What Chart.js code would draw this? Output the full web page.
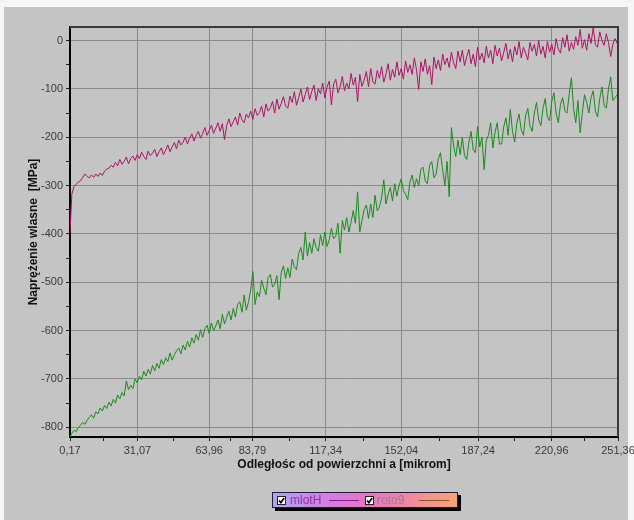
<!DOCTYPE html>
<html>
<head>
<meta charset="utf-8">
<title>Naprężenie własne</title>
<script src="https://cdn.jsdelivr.net/npm/chart.js"></script>
<style>
    html, body { margin: 0; padding: 0; background: #f6f6f6; }
    #panel { position: absolute; left: 4px; top: 7px; width: 624px; height: 513px; background: #c4c4c4; }
    #chart { position: absolute; left: 0; top: 0; }
    #legend {
        position: absolute; left: 272px; top: 492px; width: 184px; height: 14px;
        border: 1px solid #1c1c3c;
        background: linear-gradient(to right, #b0a4f2 0%, #d27ee0 30%, #e674c4 50%, #f08a9c 75%, #f8a27a 100%);
        box-shadow: 3px 3px 0 #000;
        font: 12px "Liberation Sans", Arial, sans-serif;
    }
    #legend .cb {
        position: absolute; top: 3px; width: 7px; height: 7px;
        background: #fff; border: 1px solid #222;
    }
    #legend .cb svg { position: absolute; left: 0; top: 0; }
    #legend .lt { position: absolute; top: 0px; line-height: 14px; }
    #legend .ln { position: absolute; top: 7px; height: 1px; }
</style>
</head>
<body>
<div id="panel"></div>
<canvas id="chart" width="634" height="520"></canvas>
<div id="legend">
    <span class="cb" style="left:4px"><svg width="7" height="7"><path d="M1 3.5 L2.8 5.6 L6.2 1" stroke="#000" stroke-width="1.6" fill="none"/></svg></span>
    <span class="lt" style="left:17px; color:#9a2cb2">mlotH</span>
    <span class="ln" style="left:56px; width:30px; background:#8a1a9a"></span>
    <span class="cb" style="left:92px"><svg width="7" height="7"><path d="M1 3.5 L2.8 5.6 L6.2 1" stroke="#000" stroke-width="1.6" fill="none"/></svg></span>
    <span class="lt" style="left:104px; color:#a87890">roto9</span>
    <span class="ln" style="left:146px; width:30px; background:#8a5a24"></span>
</div>
<script>
// odległość od powierzchni [mikrom]
const depth = [
    0.17, 1, 2, 3, 4, 5, 6, 7, 8, 9,
    10, 11, 12, 13, 14, 15, 16, 17, 18, 19,
    20, 21, 22, 23, 24, 25, 26, 27, 28, 29,
    30, 31, 32, 33, 34, 35, 36, 37, 38, 39,
    40, 41, 42, 43, 44, 45, 46, 47, 48, 49,
    50, 51, 52, 53, 54, 55, 56, 57, 58, 59,
    60, 61, 62, 63, 64, 65, 66, 67, 68, 69,
    70, 71, 72, 73, 74, 75, 76, 77, 78, 79,
    80, 81, 82, 83, 84, 85, 86, 87, 88, 89,
    90, 91, 92, 93, 94, 95, 96, 97, 98, 99,
    100, 101, 102, 103, 104, 105, 106, 107, 108, 109,
    110, 111, 112, 113, 114, 115, 116, 117, 118, 119,
    120, 121, 122, 123, 124, 125, 126, 127, 128, 129,
    130, 131, 132, 133, 134, 135, 136, 137, 138, 139,
    140, 141, 142, 143, 144, 145, 146, 147, 148, 149,
    150, 151, 152, 153, 154, 155, 156, 157, 158, 159,
    160, 161, 162, 163, 164, 165, 166, 167, 168, 169,
    170, 171, 172, 173, 174, 175, 176, 177, 178, 179,
    180, 181, 182, 183, 184, 185, 186, 187, 188, 189,
    190, 191, 192, 193, 194, 195, 196, 197, 198, 199,
    200, 201, 202, 203, 204, 205, 206, 207, 208, 209,
    210, 211, 212, 213, 214, 215, 216, 217, 218, 219,
    220, 221, 222, 223, 224, 225, 226, 227, 228, 229,
    230, 231, 232, 233, 234, 235, 236, 237, 238, 239,
    240, 241, 242, 243, 244, 245, 246, 247, 248, 249,
    250, 251, 251.36
];

// naprężenie [MPa] - seria mlotH
const mlotH = [
    -398, -318, -302, -297, -293, -290, -283, -276, -281, -284,
    -278, -283, -276, -281, -274, -279, -270, -266, -264, -258,
    -262, -252, -259, -246, -256, -250, -241, -255, -244, -239,
    -248, -236, -244, -231, -240, -246, -229, -238, -233, -225,
    -240, -230, -222, -236, -227, -216, -230, -220, -211, -224,
    -206, -216, -210, -200, -214, -202, -193, -208, -196, -188,
    -202, -192, -180, -196, -186, -175, -192, -181, -170, -188,
    -172, -205, -176, -162, -178, -168, -158, -175, -150, -164,
    -170, -152, -160, -146, -163, -141, -155, -149, -136, -158,
    -131, -146, -139, -126, -150, -121, -142, -130, -116, -135,
    -140, -115, -128, -106, -134, -118, -100, -127, -112, -96,
    -122, -105, -92, -124, -100, -110, -88, -119, -96, -84,
    -133, -90, -80, -108, -96, -74, -104, -88, -100, -68,
    -92, -76, -126, -70, -95, -82, -64, -96, -58, -86,
    -90, -62, -78, -54, -86, -70, -48, -82, -60, -76,
    -44, -72, -58, -80, -42, -66, -50, -70, -36, -60,
    -101, -44, -64, -38, -70, -52, -91, -34, -58, -40,
    -62, -28, -50, -36, -56, -24, -46, -58, -22, -44,
    -20, -52, -34, -18, -48, -28, -54, -14, -40, -26,
    -46, -12, -36, -20, -48, -10, -32, -16, -42, -24,
    -6, -38, -18, -44, -12, -30, -2, -36, -14, -26,
    -40, -4, -22, -8, -32, 0, -28, -12, -36, -2,
    -24, -8, -30, 4, -18, -26, 6, -14, 12, -22,
    -4, -18, 8, -10, 23, -16, 2, -20, 14, -6,
    27, -8, -14, 18, 0, -10, 14, -4, -33, -8,
    4, -6, -4
];

// naprężenie [MPa] - seria roto9
const roto9 = [
    -820, -812, -806, -809, -800, -796, -790, -794, -785, -780,
    -774, -781, -768, -772, -760, -766, -755, -761, -748, -756,
    -742, -750, -733, -741, -728, -735, -704, -722, -713, -720,
    -700, -708, -694, -702, -684, -694, -680, -690, -672, -683,
    -668, -678, -660, -670, -656, -664, -646, -661, -650, -642,
    -636, -648, -630, -640, -622, -634, -615, -626, -608, -620,
    -598, -614, -596, -589, -606, -584, -600, -590, -578, -596,
    -566, -586, -572, -560, -578, -554, -572, -546, -540, -562,
    -526, -558, -540, -516, -478, -546, -520, -530, -496, -512,
    -526, -490, -484, -510, -504, -486, -536, -480, -466, -492,
    -470, -490, -452, -468, -474, -440, -428, -454, -396, -446,
    -418, -440, -410, -428, -436, -402, -424, -396, -426, -412,
    -388, -410, -404, -378, -440, -372, -392, -366, -396, -376,
    -352, -378, -313, -396, -372, -350, -340, -368, -338, -366,
    -320, -352, -344, -326, -288, -338, -318, -304, -332, -296,
    -322, -300, -286, -310, -318, -329, -292, -278, -304, -286,
    -300, -266, -262, -290, -296, -258, -250, -284, -276, -244,
    -232, -268, -300, -250, -323, -180, -218, -240, -206, -236,
    -200, -238, -246, -210, -188, -226, -232, -178, -220, -200,
    -267, -206, -196, -170, -222, -190, -170, -214, -214, -178,
    -160, -196, -143, -188, -210, -170, -152, -184, -196, -156,
    -140, -176, -188, -150, -128, -164, -176, -140, -120, -158,
    -166, -126, -108, -150, -170, -132, -118, -146, -150, -110,
    -77, -140, -170, -124, -191, -150, -112, -128, -150, -118,
    -104, -146, -158, -120, -96, -134, -140, -100, -75, -124,
    -118, -112, -114
];

const xTicks = [0.17, 31.07, 63.96, 83.79, 117.34, 152.04, 187.24, 220.96, 251.36];
const yTicks = [-800, -700, -600, -500, -400, -300, -200, -100, 0];

document.addEventListener("DOMContentLoaded", function () {
    Chart.defaults.font.family = '"Liberation Sans", Arial, sans-serif';
    Chart.defaults.font.size = 11;
    Chart.defaults.color = "#333";

    // minor ticks halfway between the labelled ones
    const xMinor = [];
    for (let i = 1; i < xTicks.length; i++) xMinor.push((xTicks[i - 1] + xTicks[i]) / 2);
    const yMinor = [];
    for (let i = 1; i < yTicks.length; i++) yMinor.push((yTicks[i - 1] + yTicks[i]) / 2);

    const xMajorSet = new Set(xTicks);
    const yMajorSet = new Set(yTicks);

    const toPoints = (ys) => depth.map((x, i) => ({ x: x, y: ys[i] }));

    // top + right edge of the plot frame
    const framePlugin = {
        id: "frame",
        afterDraw(chart) {
            const { ctx, chartArea: a } = chart;
            ctx.save();
            ctx.strokeStyle = "#3a3a3a";
            ctx.lineWidth = 2;
            ctx.beginPath();
            ctx.moveTo(a.left, a.top);
            ctx.lineTo(a.right, a.top);
            ctx.lineTo(a.right, a.bottom);
            ctx.stroke();
            ctx.restore();
        },
    };

    new Chart(document.getElementById("chart").getContext("2d"), {
        type: "line",
        data: {
            datasets: [
                {
                    label: "mlotH",
                    data: toPoints(mlotH),
                    borderColor: "#ae1262",
                    borderWidth: 1,
                    pointRadius: 0,
                    tension: 0,
                },
                {
                    label: "roto9",
                    data: toPoints(roto9),
                    borderColor: "#1b8a1e",
                    borderWidth: 1,
                    pointRadius: 0,
                    tension: 0,
                },
            ],
        },
        options: {
            responsive: false,
            animation: false,
            devicePixelRatio: 1,
            layout: { padding: { top: 27, right: 16, bottom: 0, left: 0 } },
            plugins: {
                legend: { display: false },
                tooltip: { enabled: false },
            },
            scales: {
                x: {
                    type: "linear",
                    min: 0.17,
                    max: 251.36,
                    afterBuildTicks: (scale) => {
                        scale.ticks = xTicks.concat(xMinor)
                            .sort((a, b) => a - b)
                            .map((v) => ({ value: v }));
                    },
                    afterFit: (scale) => {
                        scale.height = 83;
                        scale.paddingLeft = 0;
                        scale.paddingRight = 0;
                    },
                    ticks: {
                        autoSkip: false,
                        maxRotation: 0,
                        padding: 3,
                        color: "#3a3a3a",
                        callback: (value) =>
                            xMajorSet.has(value) ? value.toFixed(2).replace(".", ",") : "",
                    },
                    grid: {
                        color: (ctx) => (ctx.tick && xMajorSet.has(ctx.tick.value) ? "#8a8a8a" : "rgba(0,0,0,0)"),
                        tickColor: "#222",
                        tickLength: 4,
                    },
                    border: { display: true, color: "#000", width: 2 },
                    title: {
                        display: true,
                        text: "Odległośc od powierzchni a [mikrom]",
                        color: "#111",
                        font: { size: 12, weight: "bold" },
                        padding: { top: 0, bottom: 48 },
                    },
                },
                y: {
                    min: -820,
                    max: 28,
                    afterBuildTicks: (scale) => {
                        scale.ticks = yTicks.concat(yMinor)
                            .sort((a, b) => a - b)
                            .map((v) => ({ value: v }));
                    },
                    afterFit: (scale) => {
                        scale.width = 70;
                        scale.paddingTop = 0;
                        scale.paddingBottom = 0;
                    },
                    ticks: {
                        autoSkip: false,
                        padding: 3,
                        color: "#3a3a3a",
                        callback: (value) => (yMajorSet.has(value) ? String(value) : ""),
                    },
                    grid: {
                        color: (ctx) => (ctx.tick && yMajorSet.has(ctx.tick.value) ? "#8a8a8a" : "rgba(0,0,0,0)"),
                        tickColor: "#222",
                        tickLength: 4,
                    },
                    border: { display: true, color: "#000", width: 2 },
                    title: {
                        display: true,
                        text: "Naprężenie wlasne  [MPa]",
                        color: "#111",
                        font: { size: 12, weight: "bold" },
                        padding: { top: 26, bottom: 0 },
                    },
                },
            },
        },
        plugins: [framePlugin],
    });
});
</script>
</body>
</html>
